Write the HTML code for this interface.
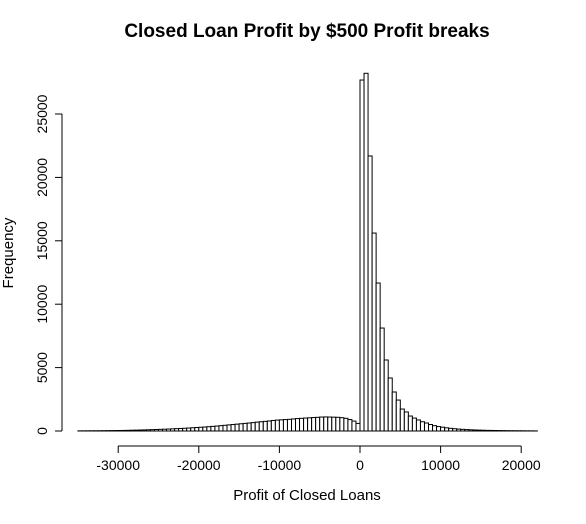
<!DOCTYPE html>
<html><head><meta charset="utf-8"><style>
body{margin:0;background:#fff}
svg text{font-family:"Liberation Sans",sans-serif;fill:#000}
</style></head><body>
<svg width="586" height="519" viewBox="0 0 586 519" xmlns="http://www.w3.org/2000/svg">
<text x="307" y="37" font-size="19" font-weight="bold" text-anchor="middle">Closed Loan Profit by $500 Profit breaks</text>
<text x="307" y="500" font-size="15" text-anchor="middle">Profit of Closed Loans</text>
<text transform="translate(13,253) rotate(-90)" font-size="15" text-anchor="middle">Frequency</text>
<g id="bars"></g>
<g id="xaxis"></g>
<g id="yaxis"></g>
</svg>
<script>
const binStart = -35000;
const binWidth = 500;
const counts = [
10,12,14,16,18,20,24,28,32,36,
40,45,52,60,68,76,85,95,105,118,
130,142,155,170,185,200,215,235,255,275,
295,315,340,365,390,420,450,480,510,540,
570,600,630,660,700,730,760,790,830,860,
880,900,920,950,980,1000,1020,1040,1060,1080,
1100,1110,1100,1090,1080,1050,1000,900,780,600,
27680,28210,21690,15610,11670,8120,5600,4180,3075,2440,
1730,1500,1180,1020,870,730,630,510,420,350,
300,250,210,180,150,130,110,95,80,70,
60,50,45,40,35,30,25,22,20,18,
15,12,10,8
];
const xTicks = [-30000,-20000,-10000,0,10000,20000];
const yTicks = [0,5000,10000,15000,20000,25000];
const NS="http://www.w3.org/2000/svg";
const X = v => 360 + v*(403/50000);
const Y = v => 431 - v*(317/25000);
function mk(t,a){const e=document.createElementNS(NS,t);for(const k in a)e.setAttribute(k,a[k]);return e;}
const bars=document.getElementById('bars');
counts.forEach((c,i)=>{
  const x0=X(binStart+i*binWidth), x1=X(binStart+(i+1)*binWidth);
  const r=mk('rect',{x:x0,y:Y(c),width:x1-x0,height:Y(0)-Y(c),fill:'#fff',stroke:'#000','stroke-width':1});
  
  
  bars.appendChild(r);
});
const xa=document.getElementById('xaxis');
xa.appendChild(mk('line',{x1:X(xTicks[0]),x2:X(xTicks[xTicks.length-1]),y1:446,y2:446,stroke:'#000'}));
xTicks.forEach(t=>{
  xa.appendChild(mk('line',{x1:X(t),x2:X(t),y1:446,y2:453,stroke:'#000'}));
  const tx=mk('text',{x:X(t),y:470,'font-size':14,'text-anchor':'middle'});
  tx.textContent=t;
  
  
  xa.appendChild(tx);
});
const ya=document.getElementById('yaxis');
ya.appendChild(mk('line',{x1:62,x2:62,y1:Y(yTicks[0]),y2:Y(yTicks[yTicks.length-1]),stroke:'#000'}));
yTicks.forEach(t=>{
  ya.appendChild(mk('line',{x1:55,x2:62,y1:Y(t),y2:Y(t),stroke:'#000'}));
  const tx=mk('text',{transform:`translate(47,${Y(t)}) rotate(-90)`,'font-size':14,'text-anchor':'middle'});
  tx.textContent=t;
  
  
  ya.appendChild(tx);
});
</script>
</body></html>
